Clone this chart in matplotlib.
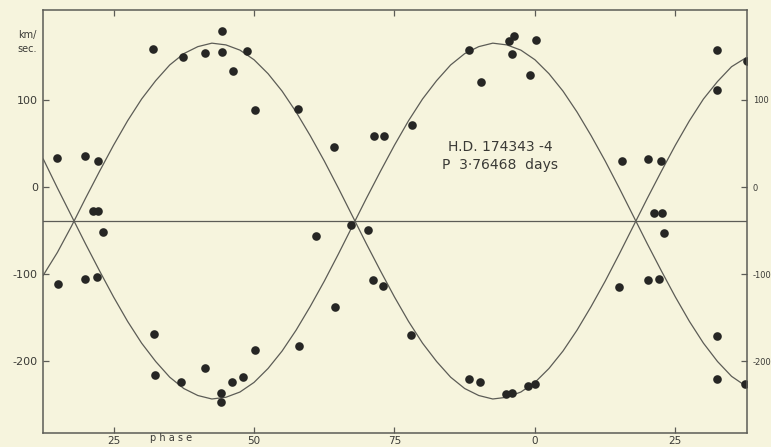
import matplotlib.pyplot as plt

# observed radial velocities (phase in hundredths of the period, km/sec)
obs_phase = [15.0, 20.0, 22.2, 21.4, 22.3, 23.1, 32.0, 37.4, 41.3, 44.3, 44.3, 46.3, 48.8, 50.2,
             15.2, 20.0, 22.1, 32.2, 32.3, 37.0, 41.2, 44.1, 44.2, 46.0, 48.1, 50.1,
             57.9, 64.3, 71.3, 73.2, 78.1, 88.3, 90.4, 95.3, 96.3, 95.9, 100.2, 99.1,
             67.2, 70.3, 61.1, 64.4, 58.0, 71.1, 73.0, 78.0, 88.2, 90.2, 94.8, 95.9, 98.8, 100.0,
             132.4, 137.7, 132.5, 115.5, 120.1, 122.4, 121.2, 122.7, 122.9,
             115.0, 120.1, 122.1, 132.4, 132.4, 137.4]
obs_vel = [33, 36, 30, -28, -28, -51, 158, 149, 154, 179, 155, 133, 156, 88,
           -111, -105, -103, -168, -216, -223, -208, -236, -246, -223, -218, -187,
           89, 46, 59, 59, 71, 157, 121, 167, 173, 152, 169, 128,
           -44, -49, -56, -138, -182, -106, -113, -170, -220, -223, -237, -236, -228, -226,
           157, 145, 111, 30, 32, 30, -30, -30, -53,
           -115, -107, -105, -171, -220, -226]

# velocity curves
curve_phase = [12.5, 15, 17.5, 20, 22.5, 25, 27.5, 30, 32.5, 35, 37.5, 40, 42.5, 45, 47.5,
               50, 52.5, 55, 57.5, 60, 62.5, 65, 67.5, 70, 72.5, 75, 77.5, 80, 82.5, 85,
               87.5, 90, 92.5, 95, 97.5, 100, 102.5, 105, 107.5, 110, 112.5, 115, 117.5,
               120, 122.5, 125, 127.5, 130, 132.5, 135, 137.5]
curve_a = [-101, -75, -45, -13, 18, 48, 76, 101, 122, 140, 153, 161, 165, 163, 157,
           146, 130, 110, 86, 59, 30, -1, -33, -65, -96, -126, -154, -179, -200, -218,
           -231, -239, -243, -241, -235, -224, -208, -188, -164, -137, -108, -77, -45,
           -13, 18, 48, 76, 101, 121, 138, 148]
curve_b = [32, -1, -33, -65, -96, -126, -154, -179, -200, -218, -231, -239, -243, -241, -235,
           -224, -208, -188, -164, -137, -108, -77, -45, -13, 18, 48, 76, 101, 122, 140,
           153, 161, 165, 163, 157, 146, 130, 110, 86, 59, 30, -1, -33,
           -65, -96, -126, -154, -179, -200, -217, -228]
gamma = -39

xticks = [25, 50, 75, 100, 125]
xtick_labels = ["25", "50", "75", "0", "25"]
yticks = [100, 0, -100, -200]
ytick_labels = ["100", "0", "-100", "-200"]

paper = "#f6f4dd"
ink = "#3a3a36"
line_col = "#5c5c56"

fig = plt.figure(figsize=(7.71, 4.47), dpi=100, facecolor=paper)
ax = fig.add_axes([0.0562, 0.0313, 0.9123, 0.9463], facecolor=paper)

ax.plot(curve_phase, curve_a, color=line_col, linewidth=0.9)
ax.plot(curve_phase, curve_b, color=line_col, linewidth=0.9)
ax.axhline(gamma, color=line_col, linewidth=0.9)
ax.plot(obs_phase, obs_vel, "o", color="#262624", markersize=6.2, markeredgewidth=0)

ax.set_xlim(12.5, 137.7)
ax.set_ylim(-282, 203)

for s in ax.spines.values():
    s.set_color(line_col)
    s.set_linewidth(1.1)

ax.set_xticks(xticks)
ax.set_xticklabels(xtick_labels, fontsize=7.5, color=ink)
ax.set_yticks(yticks)
ax.set_yticklabels(ytick_labels, fontsize=8, color=ink)
ax.tick_params(axis="both", direction="in", length=4, width=0.9, color=line_col,
               top=True, right=True, pad=2)
ax.tick_params(axis="y", labelright=True, pad=4)

# right-hand labels squeezed against the edge, as on the plate
for t in ax.yaxis.get_major_ticks():
    t.label2.set_fontsize(6)
    t.label2.set_color(ink)
    t.label2.set_x(1.001)

# "phase" sits in the tick-label row
ax.text(35.3, -282, "p h a s e", fontsize=7, color=ink, ha="center", va="top")

fig.text(0.023, 0.915, "km/", fontsize=7, color=ink)
fig.text(0.022, 0.884, "sec.", fontsize=7, color=ink)

ax.text(0.576, 0.676, "H.D. 174343 -4", transform=ax.transAxes, fontsize=10,
        color=ink, va="center", ha="left")
ax.text(0.567, 0.634, "P  3·76468  days", transform=ax.transAxes, fontsize=10,
        color=ink, va="center", ha="left")

fig.savefig("out.png", dpi=100, facecolor=paper)
